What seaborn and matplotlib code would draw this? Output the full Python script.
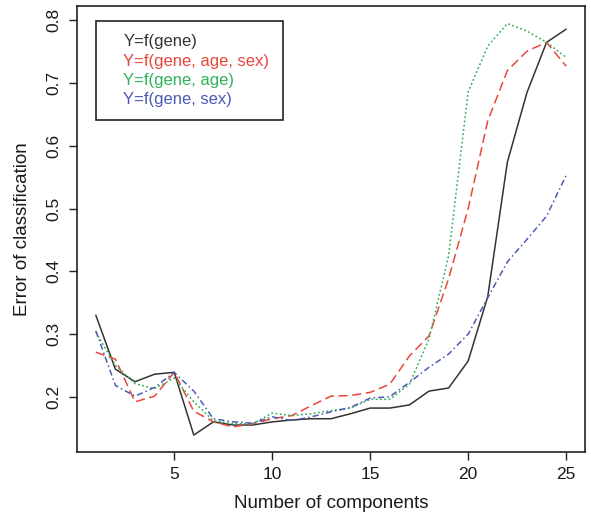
import numpy as np
import pandas as pd
import matplotlib
matplotlib.use("Agg")
import matplotlib.pyplot as plt
import seaborn as sns

# -------------------------------------------------------------
#  Datos
# -------------------------------------------------------------

componentes = list(range(1, 26))

err_gene = [0.330, 0.244, 0.224, 0.236, 0.239, 0.139, 0.160, 0.155, 0.155, 0.160,
            0.163, 0.165, 0.165, 0.173, 0.182, 0.182, 0.187, 0.209, 0.214, 0.257,
            0.360, 0.574, 0.685, 0.765, 0.786]

err_gene_age_sex = [0.271, 0.260, 0.192, 0.201, 0.239, 0.177, 0.160, 0.152, 0.157, 0.165,
                    0.170, 0.186, 0.201, 0.202, 0.207, 0.220, 0.265, 0.297, 0.388, 0.500,
                    0.640, 0.720, 0.751, 0.765, 0.727]

err_gene_age = [0.303, 0.250, 0.221, 0.213, 0.230, 0.192, 0.162, 0.157, 0.157, 0.174,
                0.170, 0.173, 0.178, 0.182, 0.196, 0.196, 0.220, 0.292, 0.425, 0.686,
                0.759, 0.795, 0.783, 0.765, 0.741]

err_gene_sex = [0.305, 0.218, 0.201, 0.215, 0.239, 0.209, 0.165, 0.160, 0.158, 0.168,
                0.162, 0.168, 0.176, 0.183, 0.198, 0.200, 0.223, 0.247, 0.268, 0.300,
                0.358, 0.415, 0.451, 0.488, 0.553]

modelos = ["Y=f(gene)", "Y=f(gene, age, sex)", "Y=f(gene, age)", "Y=f(gene, sex)"]
colores = ["#333333", "#e8473a", "#2fb25a", "#4a5ab5"]
estilos = [(), (6, 3), (1.2, 1.6), (4, 2, 1, 2)]

# -------------------------------------------------------------
#  Tabla larga para seaborn
# -------------------------------------------------------------

series = [err_gene, err_gene_age_sex, err_gene_age, err_gene_sex]
df = pd.DataFrame({
    "comp"  : componentes * len(modelos),
    "error" : sum(series, []),
    "modelo": sum([[m] * len(componentes) for m in modelos], []),
})

sns.set_style("ticks")
plt.rcParams["font.family"] = ["Liberation Sans", "DejaVu Sans"]

fig = plt.figure(figsize=(5.91, 5.20), dpi=100)
ax = fig.add_axes([0.1303, 0.1308, 0.8595, 0.8577])

sns.lineplot(
    data=df,
    x="comp",
    y="error",
    hue="modelo",
    style="modelo",
    hue_order=modelos,
    style_order=modelos,
    palette=dict(zip(modelos, colores)),
    dashes=dict(zip(modelos, estilos)),
    linewidth=1.1,
    ax=ax,
)

ax.set_xlim(0.04, 25.96)
ax.set_ylim(0.112, 0.823)
ax.set_xticks([5, 10, 15, 20, 25])
ax.set_yticks([0.2, 0.3, 0.4, 0.5, 0.6, 0.7, 0.8])
ax.set_yticklabels(["0.2", "0.3", "0.4", "0.5", "0.6", "0.7", "0.8"],
                   rotation=90, va="center")
ax.tick_params(axis="both", direction="out", length=6, width=1.0,
               labelsize=12.5, color="#222222", labelcolor="#1a1a1a", pad=5)
ax.set_xlabel("Number of components", fontsize=13.5, labelpad=9, color="#1a1a1a")
ax.set_ylabel("Error of classification", fontsize=13.5, labelpad=11, color="#1a1a1a")

for lado in ["left", "right", "top", "bottom"]:
    ax.spines[lado].set_visible(True)
    ax.spines[lado].set_linewidth(1.2)
    ax.spines[lado].set_color("#222222")

# leyenda solo con texto coloreado
leg = ax.legend(
    loc="upper left",
    bbox_to_anchor=(0.037, 0.966),
    borderaxespad=0,
    fancybox=False,
    framealpha=1,
    edgecolor="#222222",
    fontsize=12,
    handlelength=0.5,
    handletextpad=0.35,
    borderpad=0.8,
    labelspacing=0.25,
)
leg.get_frame().set_linewidth(1.2)
for h, t, c in zip(leg.legend_handles, leg.get_texts(), colores):
    h.set_visible(False)
    t.set_color(c)

plt.savefig("out.png", dpi=100)
plt.close()
